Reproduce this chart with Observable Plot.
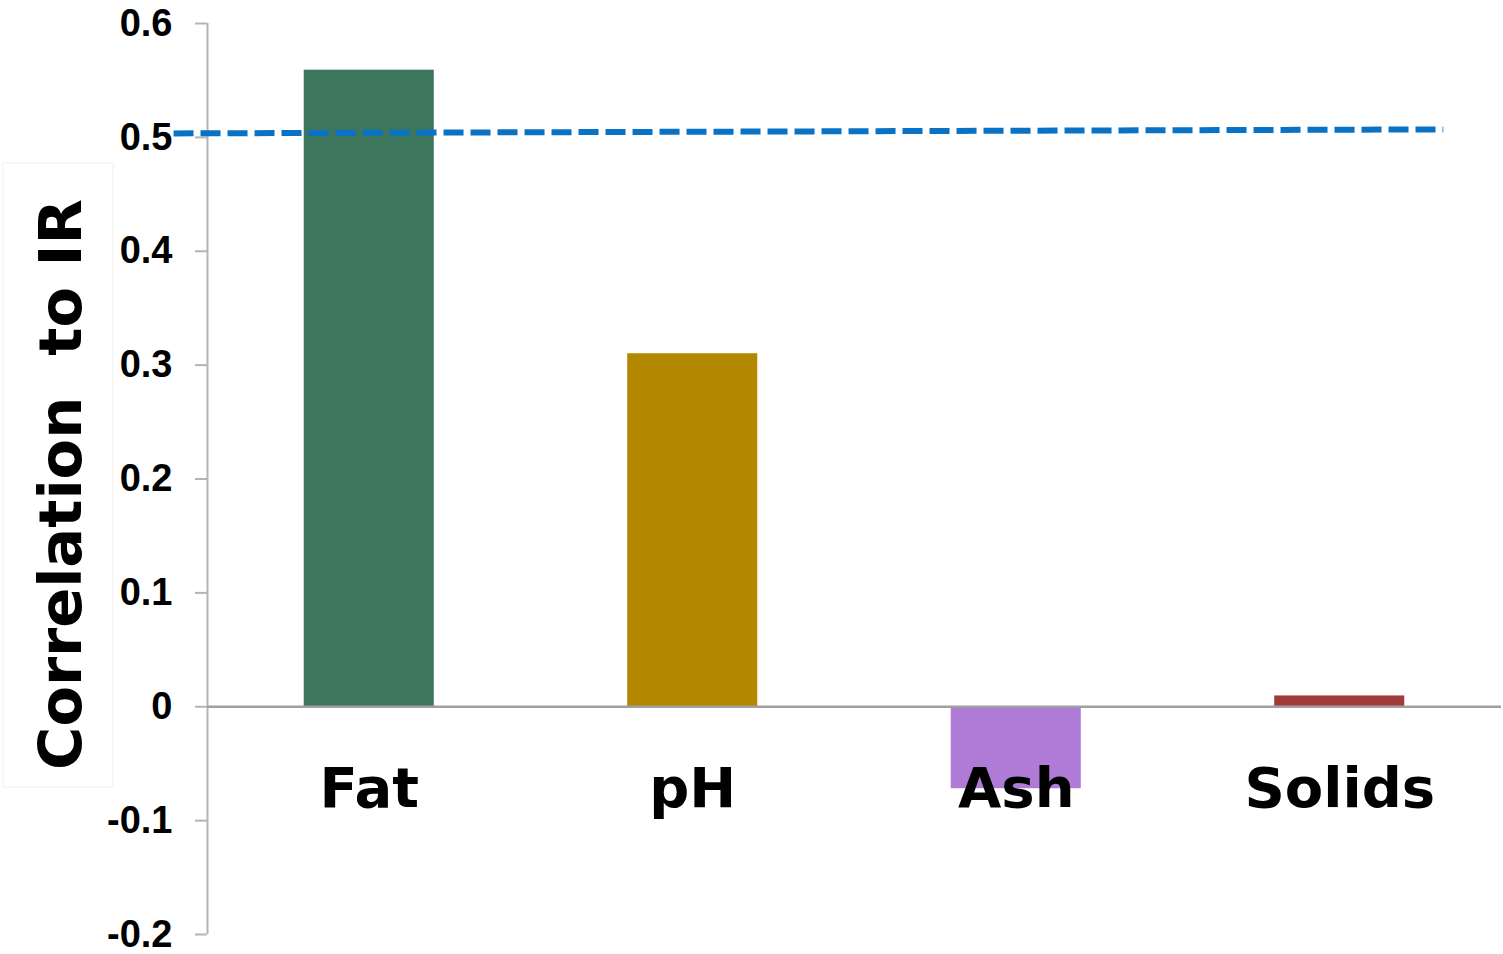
<!DOCTYPE html>
<html>
<head>
<meta charset="utf-8">
<script src="https://cdn.jsdelivr.net/npm/d3@7"></script>
<script src="https://cdn.jsdelivr.net/npm/@observablehq/plot@0.6"></script>
<style>
  html, body { margin: 0; padding: 0; background: #fff; }
  #chart { width: 1503px; height: 954px; }
</style>
</head>
<body>
<div id="chart"></div>
<script>
// Correlation of each milk component with the IR signal
const categories = ["Fat", "pH", "Ash", "Solids"];
const correlations = [0.559, 0.31, -0.072, 0.0095];
const barColors = ["#3c765c", "#b38700", "#b07bd6", "#a33a3a"];

// Dashed reference line near r = 0.5 (drawn slightly off level)
const thresholdX = [-0.605, 3.32];
const thresholdY = [0.5035, 0.507];

const yTicks = [-0.2, -0.1, 0, 0.1, 0.2, 0.3, 0.4, 0.5, 0.6];
const yLabel = "Correlation  to IR";

const xDomain = [-0.5, categories.length - 0.5];
const barHalf = 0.201;

const bars = categories.map((c, i) => ({
  category: c,
  index: i,
  value: correlations[i],
  color: barColors[i]
}));
const threshold = thresholdX.map((x, i) => ({x, y: thresholdY[i]}));

const plot = Plot.plot({
  width: 1503,
  height: 954,
  marginLeft: 207,
  marginRight: 2,
  marginTop: 23,
  marginBottom: 20,
  style: {background: "transparent", overflow: "visible"},
  x: {domain: xDomain, axis: null},
  y: {domain: [-0.2, 0.6]},
  marks: [
    Plot.rectY(bars, {
      x1: d => d.index - barHalf,
      x2: d => d.index + barHalf,
      y1: 0,
      y2: "value",
      fill: "color"
    }),
    Plot.ruleX([xDomain[0]], {y1: -0.2, y2: 0.6, stroke: "#b4b4b4", strokeWidth: 2}),
    Plot.axisY({
      ticks: yTicks,
      tickSize: 12,
      tickPadding: 23,
      tickFormat: d => String(d),
      stroke: "#b4b4b4",
      strokeWidth: 2,
      strokeOpacity: 1,
      fill: "#000",
      fontFamily: "Liberation Sans, Arial, sans-serif",
      fontWeight: "bold",
      fontSize: 38,
      label: null
    }),
    Plot.ruleY([0], {stroke: "#a0a0a0", strokeWidth: 2.5}),
    Plot.text(bars, {
      x: "index",
      y: 0,
      text: "category",
      dy: 100,
      lineAnchor: "bottom",
      textAnchor: "middle",
      fontFamily: "DejaVu Sans, Verdana, sans-serif",
      fontWeight: "bold",
      fontSize: 56,
      fill: "#000"
    }),
    Plot.line(threshold, {
      x: "x",
      y: "y",
      stroke: "#0a72c4",
      strokeWidth: 6,
      strokeDasharray: "20 7",
      strokeLinecap: "butt",
      clip: false
    }),
    Plot.text([yLabel], {
      frameAnchor: "left",
      text: d => d,
      rotate: -90,
      dx: -127,
      dy: 5.5,
      lineAnchor: "bottom",
      textAnchor: "middle",
      fontFamily: "DejaVu Sans, Verdana, sans-serif",
      fontWeight: "bold",
      fontSize: 59,
      fill: "#000"
    })
  ]
});

// White panel behind the rotated axis title
const svg = d3.select(plot);
svg.insert("rect", ":first-child")
  .attr("x", 3).attr("y", 163)
  .attr("width", 110).attr("height", 624)
  .attr("fill", "#fff")
  .attr("stroke", "#efefef")
  .attr("stroke-width", 1);

document.getElementById("chart").appendChild(plot);
</script>
</body>
</html>
